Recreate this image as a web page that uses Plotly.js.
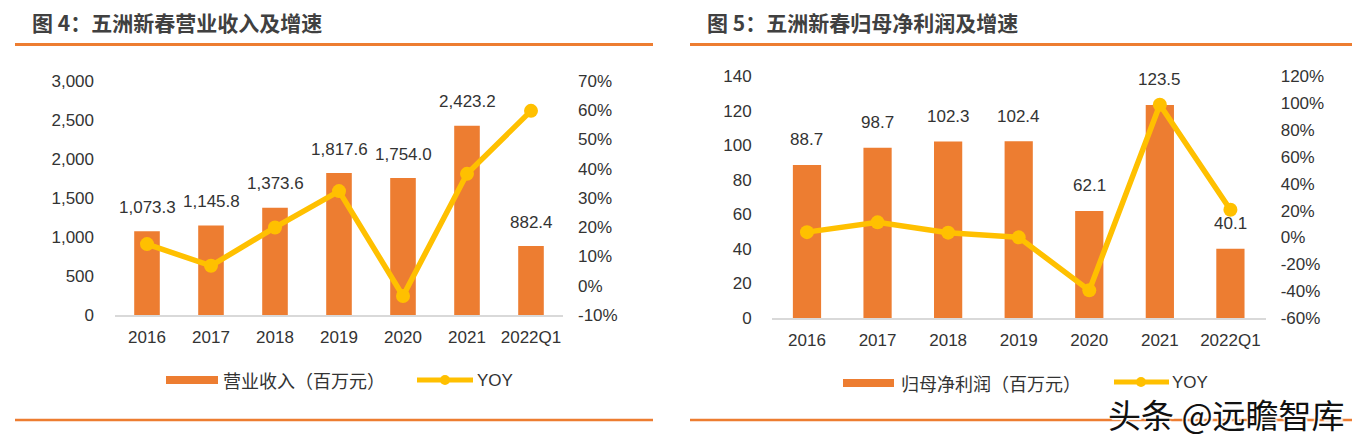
<!DOCTYPE html>
<html>
<head>
<meta charset="utf-8">
<script src="https://cdn.plot.ly/plotly-3.0.1.min.js"></script>
<style>
html,body{margin:0;padding:0;background:#fff;}
#chart{width:1372px;height:437px;}
</style>
</head>
<body>
<div id="chart"></div>
<script>
// ---------- data ----------
const categories = ["2016", "2017", "2018", "2019", "2020", "2021", "2022Q1"];
const revenue = [1073.3, 1145.8, 1373.6, 1817.6, 1754.0, 2423.2, 882.4];
const revenueYoy = [14.2, 6.8, 19.9, 32.3, -3.5, 38.2, 59.7];
const profit = [88.7, 98.7, 102.3, 102.4, 62.1, 123.5, 40.1];
const profitYoy = [4.0, 11.3, 3.6, 0.1, -39.4, 98.9, 20.7];

const revenueLabels = ["1,073.3", "1,145.8", "1,373.6", "1,817.6", "1,754.0", "2,423.2", "882.4"];
const profitLabels = ["88.7", "98.7", "102.3", "102.4", "62.1", "123.5", "40.1"];

const leftTickVals = [0, 500, 1000, 1500, 2000, 2500, 3000];
const leftTickText = ["0", "500", "1,000", "1,500", "2,000", "2,500", "3,000"];
const leftPctVals = [-10, 0, 10, 20, 30, 40, 50, 60, 70];
const leftPctText = ["-10%", "0%", "10%", "20%", "30%", "40%", "50%", "60%", "70%"];
const rightTickVals = [0, 20, 40, 60, 80, 100, 120, 140];
const rightTickText = ["0", "20", "40", "60", "80", "100", "120", "140"];
const rightPctVals = [-60, -40, -20, 0, 20, 40, 60, 80, 100, 120];
const rightPctText = ["-60%", "-40%", "-20%", "0%", "20%", "40%", "60%", "80%", "100%", "120%"];

const titleLeft = "图 4：五洲新春营业收入及增速";
const titleRight = "图 5：五洲新春归母净利润及增速";
const barNameLeft = "营业收入（百万元）";
const barNameRight = "归母净利润（百万元）";
const lineName = "YOY";
const watermark = "头条 @远瞻智库";

// category positions on the axis (index of each category)
const catPos = categories.map((c, i) => i);

// ---------- style ----------
const W = 1372, H = 437;
const px = v => v / W;
const py = v => 1 - v / H;
const ORANGE = "#ED7D31";
const GOLD = "#FFC000";
const TXT = "#333333";
const NUM_FONT = "Liberation Sans, Arial, sans-serif";
const CJK_FONT = "Noto Sans CJK SC, sans-serif";

const traces = [
  {type: "bar", x: catPos, y: revenue, xaxis: "x", yaxis: "y", width: 0.4,
   marker: {color: ORANGE}, name: barNameLeft, showlegend: false, hoverinfo: "skip"},
  {type: "scatter", mode: "lines+markers", x: catPos, y: revenueYoy, xaxis: "x", yaxis: "y2",
   line: {color: GOLD, width: 5.5}, marker: {color: GOLD, size: 14}, name: lineName,
   showlegend: false, cliponaxis: false, hoverinfo: "skip"},
  {type: "bar", x: catPos, y: profit, xaxis: "x2", yaxis: "y3", width: 0.4,
   marker: {color: ORANGE}, name: barNameRight, showlegend: false, hoverinfo: "skip"},
  {type: "scatter", mode: "lines+markers", x: catPos, y: profitYoy, xaxis: "x2", yaxis: "y4",
   line: {color: GOLD, width: 5.5}, marker: {color: GOLD, size: 14}, name: lineName,
   showlegend: false, cliponaxis: false, hoverinfo: "skip"}
];

const tickFont = {family: NUM_FONT, size: 17, color: TXT};

const xCommon = {type: "linear", range: [-0.5, categories.length - 0.5], tickmode: "array",
  tickvals: catPos, ticktext: categories,
  showline: true, linecolor: "#D9D9D9", linewidth: 2,
  ticks: "", showgrid: false, zeroline: false, tickfont: tickFont, ticklabelstandoff: 6, fixedrange: true};
const yCommon = {showline: false, ticks: "", showgrid: false, zeroline: false,
  tickfont: tickFont, tickmode: "array", fixedrange: true};

const annotations = [];
// titles
annotations.push({xref: "paper", yref: "paper", x: px(30), y: py(22), xanchor: "left", yanchor: "middle",
  text: "<b>" + titleLeft + "</b>", showarrow: false, font: {family: CJK_FONT, size: 21, color: "#404040"}});
annotations.push({xref: "paper", yref: "paper", x: px(705), y: py(22), xanchor: "left", yanchor: "middle",
  text: "<b>" + titleRight + "</b>", showarrow: false, font: {family: CJK_FONT, size: 21, color: "#404040"}});
// data labels
catPos.forEach((p, i) => {
  annotations.push({xref: "x", yref: "y", x: p, y: revenue[i], yshift: 24, yanchor: "middle",
    text: revenueLabels[i], showarrow: false, font: {family: NUM_FONT, size: 17, color: TXT}});
  annotations.push({xref: "x2", yref: "y3", x: p, y: profit[i], yshift: 25, yanchor: "middle",
    text: profitLabels[i], showarrow: false, font: {family: NUM_FONT, size: 17, color: TXT}});
});
// legend texts
annotations.push({xref: "paper", yref: "paper", x: px(221), y: py(380), xanchor: "left", yanchor: "middle",
  text: barNameLeft, showarrow: false, font: {family: CJK_FONT, size: 18, color: TXT}});
annotations.push({xref: "paper", yref: "paper", x: px(475), y: py(380), xanchor: "left", yanchor: "middle",
  text: lineName, showarrow: false, font: {family: NUM_FONT, size: 17, color: TXT}});
annotations.push({xref: "paper", yref: "paper", x: px(899), y: py(383), xanchor: "left", yanchor: "middle",
  text: barNameRight, showarrow: false, font: {family: CJK_FONT, size: 18, color: TXT}});
annotations.push({xref: "paper", yref: "paper", x: px(1170), y: py(382), xanchor: "left", yanchor: "middle",
  text: lineName, showarrow: false, font: {family: NUM_FONT, size: 17, color: TXT}});

const shapes = [
  // separator lines
  {type: "line", xref: "paper", yref: "paper", x0: px(15), x1: px(653), y0: py(44.5), y1: py(44.5), line: {color: ORANGE, width: 3}},
  {type: "line", xref: "paper", yref: "paper", x0: px(690), x1: px(1352), y0: py(44.5), y1: py(44.5), line: {color: ORANGE, width: 3}},
  {type: "line", xref: "paper", yref: "paper", x0: px(15), x1: px(653), y0: py(420), y1: py(420), line: {color: ORANGE, width: 2.5}},
  {type: "line", xref: "paper", yref: "paper", x0: px(690), x1: px(1352), y0: py(420), y1: py(420), line: {color: ORANGE, width: 2.5}},
  // custom legend left
  {type: "rect", xref: "paper", yref: "paper", x0: px(166), x1: px(218), y0: py(384), y1: py(376), fillcolor: ORANGE, line: {width: 0}},
  {type: "line", xref: "paper", yref: "paper", x0: px(417), x1: px(473), y0: py(380), y1: py(380), line: {color: GOLD, width: 5}},
  {type: "circle", xref: "paper", yref: "paper", x0: px(440), x1: px(450), y0: py(385), y1: py(375), fillcolor: GOLD, line: {width: 0}},
  // custom legend right
  {type: "rect", xref: "paper", yref: "paper", x0: px(843), x1: px(894), y0: py(387), y1: py(379), fillcolor: ORANGE, line: {width: 0}},
  {type: "line", xref: "paper", yref: "paper", x0: px(1114), x1: px(1169), y0: py(382), y1: py(382), line: {color: GOLD, width: 5}},
  {type: "circle", xref: "paper", yref: "paper", x0: px(1136), x1: px(1146), y0: py(387), y1: py(377), fillcolor: GOLD, line: {width: 0}}
];

// watermark (on top)
annotations.push({xref: "paper", yref: "paper", x: px(1106), y: py(414), xanchor: "left", yanchor: "middle",
  text: watermark, showarrow: false,
  font: {family: CJK_FONT, size: 33, color: "#111111", shadow: "2px 2px 1px #ffffff, -1px -1px 1px #ffffff"}});

const layout = {
  width: W, height: H,
  margin: {l: 0, r: 0, t: 0, b: 0},
  paper_bgcolor: "#ffffff", plot_bgcolor: "rgba(0,0,0,0)",
  showlegend: false,
  xaxis: Object.assign({}, xCommon, {domain: [px(115), px(563)], anchor: "y"}),
  yaxis: Object.assign({}, yCommon, {domain: [py(315), py(80.7)], anchor: "x", range: [0, 3000],
    tickvals: leftTickVals, ticktext: leftTickText, ticklabelstandoff: 20}),
  yaxis2: Object.assign({}, yCommon, {overlaying: "y", side: "right", anchor: "x", range: [-10, 70],
    tickvals: leftPctVals, ticktext: leftPctText, ticklabelstandoff: 14}),
  xaxis2: Object.assign({}, xCommon, {domain: [px(771.7), px(1265.7)], anchor: "y3"}),
  yaxis3: Object.assign({}, yCommon, {domain: [py(318), py(76.5)], anchor: "x2", range: [0, 140],
    tickvals: rightTickVals, ticktext: rightTickText, ticklabelstandoff: 19}),
  yaxis4: Object.assign({}, yCommon, {overlaying: "y3", side: "right", anchor: "x2", range: [-60, 120],
    tickvals: rightPctVals, ticktext: rightPctText, ticklabelstandoff: 14}),
  annotations: annotations,
  shapes: shapes
};

Plotly.newPlot("chart", traces, layout, {displayModeBar: false, staticPlot: true});
</script>
</body>
</html>
